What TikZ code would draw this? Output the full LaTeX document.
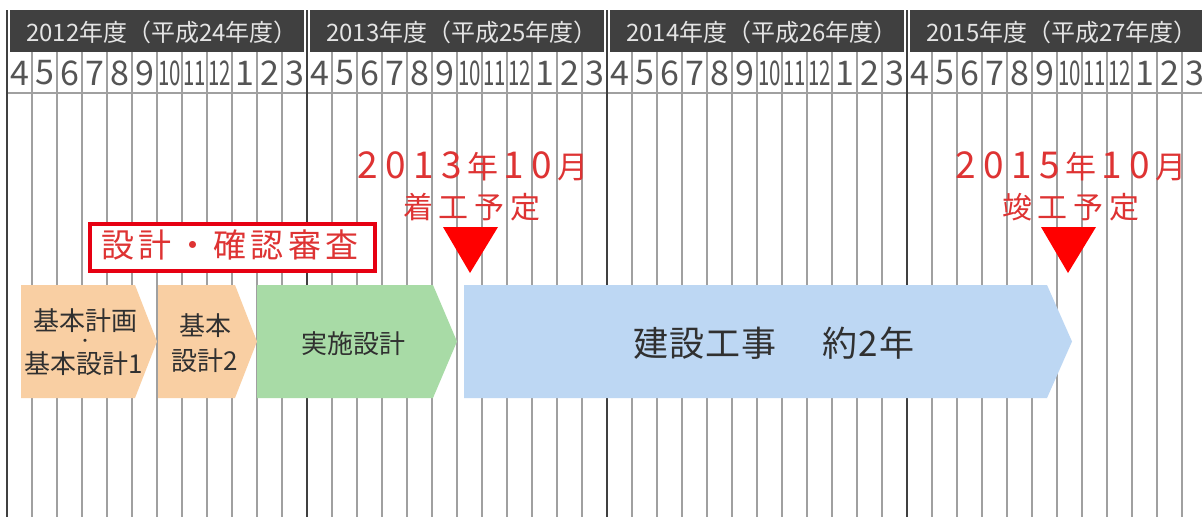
\documentclass[tikz,border=0pt]{standalone}
\usepackage{fontspec}
\usepackage{graphicx}
\setmainfont{Noto Sans CJK JP}
\newfontfamily\jpA{Noto Sans CJK JP}
\newcommand\cbx[2]{\makebox[#1pt]{#2}}
\newcommand\dgt[1]{\makebox[28pt]{\fontsize{37}{37}\selectfont #1}}
\newcommand\kjw[1]{\makebox[34pt]{\fontsize{31}{31}\selectfont #1}}
\definecolor{hdr}{HTML}{404040}
\definecolor{hdrtxt}{HTML}{E4E4E4}
\definecolor{gridc}{HTML}{A0A0A0}
\definecolor{yearc}{HTML}{404040}
\definecolor{numc}{HTML}{555555}
\definecolor{peach}{HTML}{F9CFA3}
\definecolor{mint}{HTML}{A8DBA6}
\definecolor{sky}{HTML}{BDD7F3}
\definecolor{redtxt}{HTML}{DE3333}
\definecolor{redbox}{HTML}{E60012}
\definecolor{tri}{HTML}{FF0000}
\definecolor{darktxt}{HTML}{303030}
\tikzset{
  hdrtext/.style={text=hdrtxt, font=\jpA\fontsize{24}{24}\selectfont, inner sep=0pt},
  monthnum/.style={text=numc, font=\jpA\fontsize{34}{34}\selectfont, inner sep=0pt},
  monthline/.style={draw=gridc, line width=1.4pt},
  yearline/.style={draw=yearc, line width=2.6pt},
  phasetext/.style={text=darktxt, font=\jpA\fontsize{26}{26}\selectfont, inner sep=0pt},
  bigtext/.style={text=darktxt, font=\jpA\fontsize{35}{35}\selectfont, inner sep=0pt},
  datetext/.style={text=redtxt, font=\jpA\fontsize{31}{31}\selectfont, inner sep=0pt},
  startext/.style={text=redtxt, font=\jpA\fontsize{30}{30}\selectfont, inner sep=0pt},
  boxtext/.style={text=redtxt, font=\jpA\fontsize{33}{33}\selectfont, inner sep=0pt},
}
\begin{document}
\begin{tikzpicture}[x=1pt,y=-1pt]
\useasboundingbox (0,0) rectangle (1202,517);
\fill[white] (0,0) rectangle (1202,517);
% header bars
\foreach \i/\yr/\hs in {0/2012/24,1/2013/25,2/2014/26,3/2015/27}{
  \fill[hdr] ({7+300*\i+3},10) rectangle ({7+300*(\i+1)-3},52);
  \node[hdrtext] (yr\i) at ({162+300*\i},32) {\yr 年度（平成\hs 年度）};
}
% month grid lines
\foreach \i in {0,...,3}{
  \foreach \k in {1,...,11}{
    \draw[monthline] ({7+300*\i+25*\k},52) -- ({7+300*\i+25*\k},517);
  }
}
\draw[monthline] (7,93) -- (1202,93);
\foreach \i in {0,...,3}{
  \draw[yearline] ({7+300*\i},10) -- ({7+300*\i},517);
}
% month numbers
\foreach \i in {0,...,3}{
  \foreach \m [count=\k from 0] in {4,5,6,7,8,9,10,11,12,1,2,3}{
    \node[monthnum] (m\i-\k) at ({7+300*\i+25*\k+12.5},73)
      {\ifnum\m>9 \scalebox{0.6}[1]{\m}\else\m\fi};
  }
}
% phases
\fill[peach] (21,285) -- (135,285) -- (157,341.5) -- (135,398) -- (21,398) -- cycle;
\fill[peach] (158,285) -- (235,285) -- (257,341.5) -- (235,398) -- (158,398) -- cycle;
\fill[mint] (257,285) -- (433,285) -- (457,341.5) -- (433,398) -- (257,398) -- cycle;
\fill[sky] (464,285) -- (1047,285) -- (1072,341.5) -- (1047,398) -- (464,398) -- cycle;
\node[phasetext] (p1a) at (85,321) {基本計画};
\node[phasetext, font=\jpA\fontsize{15}{15}\selectfont] (p1d) at (85,343) {・};
\node[phasetext] (p1b) at (84,364) {基本設計1};
\node[phasetext] (p2a) at (205,326) {基本};
\node[phasetext] (p2b) at (205,361) {設計2};
\node[phasetext] (p3) at (353,344) {実施設計};
\node[bigtext] (p4) at (774,343) {\cbx{36}{建}\cbx{36}{設}\cbx{36}{工}\cbx{36}{事}\cbx{45}{}\cbx{36}{約}\cbx{21}{2}\cbx{36}{年}};
% review box
\node[draw=redbox, line width=4pt, fill=white, minimum width=285pt, minimum height=47pt, inner sep=0pt] (rbox) at (232.5,247.5) {};
\node[boxtext] (rtext) at (230,245) {\cbx{37.4}{設}\cbx{37.4}{計}\cbx{37.4}{・}\cbx{37.4}{確}\cbx{37.4}{認}\cbx{37.4}{審}\cbx{37.4}{査}};
% milestones
\node[datetext] (d1) at (472,166) {\dgt{2}\dgt{0}\dgt{1}\dgt{3}\kjw{年}\dgt{1}\dgt{0}\kjw{月}};
\node[startext] (s1) at (472,207) {\cbx{36}{着}\cbx{36}{工}\cbx{36}{予}\cbx{36}{定}};
\node[datetext] (d2) at (1070,166) {\dgt{2}\dgt{0}\dgt{1}\dgt{5}\kjw{年}\dgt{1}\dgt{0}\kjw{月}};
\node[startext] (s2) at (1071,207) {\cbx{36}{竣}\cbx{36}{工}\cbx{36}{予}\cbx{36}{定}};
\fill[tri] (443,227) -- (498,227) -- (470,273) -- cycle;
\fill[tri] (1041,227) -- (1096,227) -- (1068,273) -- cycle;
\end{tikzpicture}
\end{document}
